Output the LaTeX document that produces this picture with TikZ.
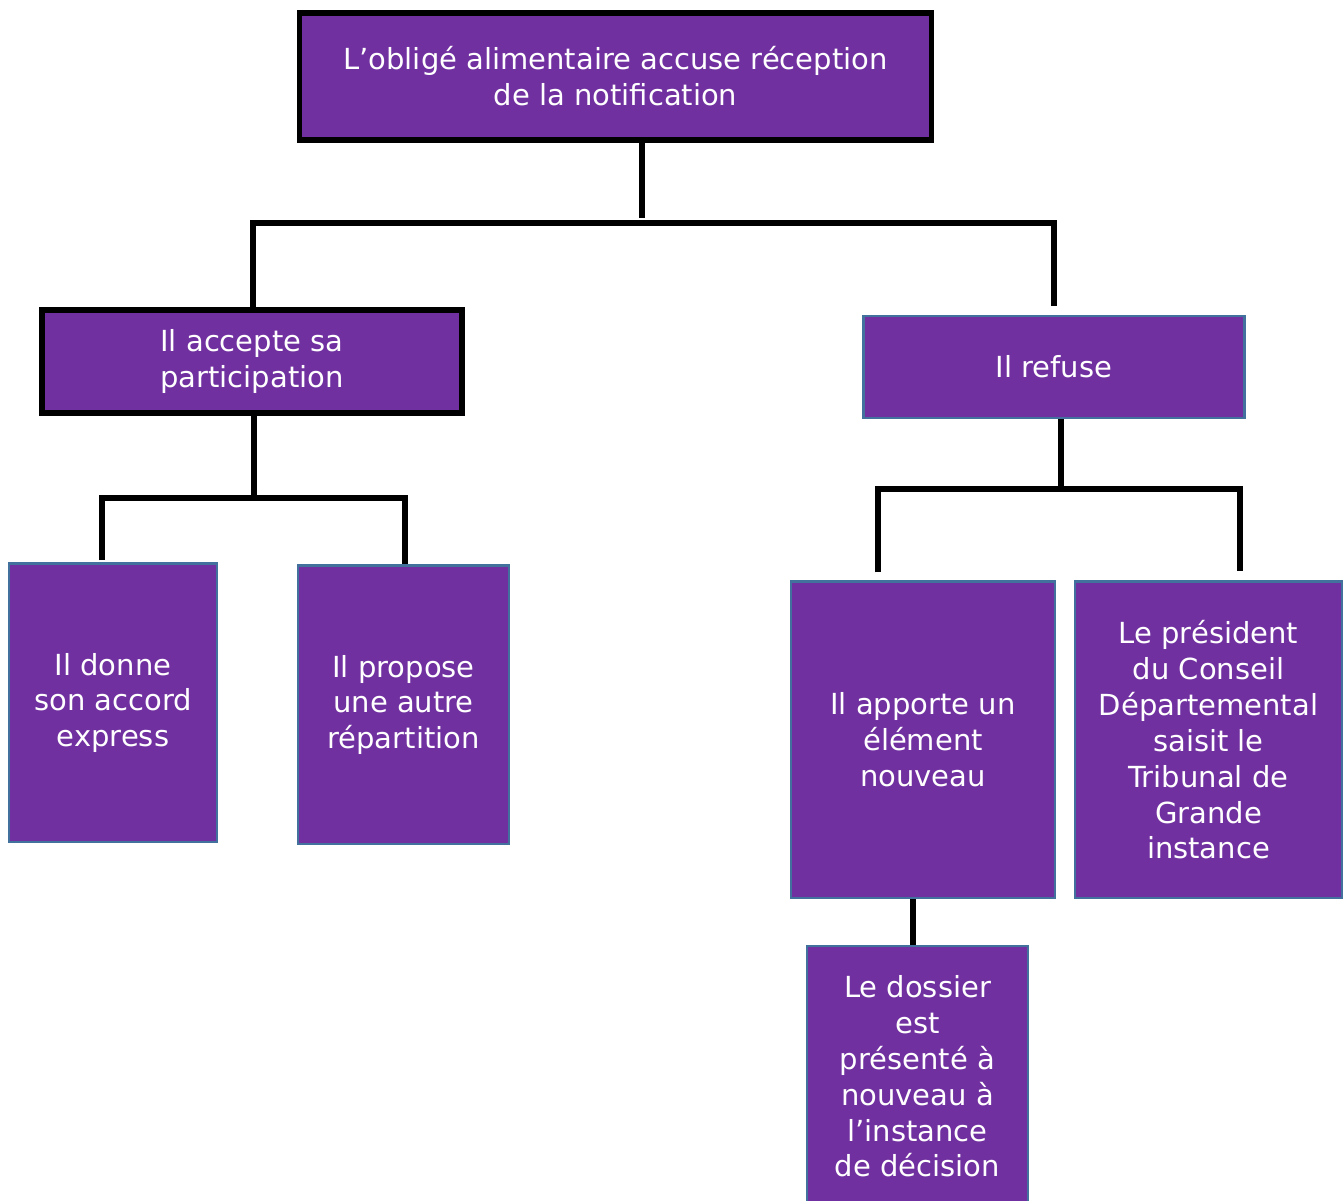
\documentclass[tikz,border=0pt]{standalone}
\usepackage{fontspec}
\setmainfont{DejaVu Sans}
\definecolor{violet}{HTML}{7030A0}
\definecolor{bordbleu}{HTML}{41719C}
\tikzset{
  boite/.style={rectangle,fill=violet,text=white,align=center,inner sep=0pt,
    font=\fontsize{8.25}{10.2}\selectfont},
  boitenoire/.style={boite,draw=black,line width=1.5pt},
  boitebleue/.style={boite,draw=bordbleu,line width=0.8pt},
  lien/.style={draw=black,line width=1.7pt}
}
\begin{document}
\begin{tikzpicture}[x=0.01cm,y=-0.01cm]
        \useasboundingbox (0,0) rectangle (1344,1201);
        \node[boitenoire,minimum width=6.31cm,minimum height=1.27cm] (oblige) at (615.5,76.5)
          {L’obligé alimentaire accuse réception\\de la notification};
        \node[boitenoire,minimum width=4.2cm,minimum height=1.03cm] (accepte) at (252,361.5)
          {Il accepte sa\\participation};
        \node[boitebleue,minimum width=3.8cm,minimum height=1.02cm] (refuse) at (1054,367)
          {Il refuse};
        \node[boitebleue,minimum width=2.08cm,minimum height=2.78cm] (donne) at (113,703)
          {Il donne\\son accord\\express};
        \node[boitebleue,minimum width=2.11cm,minimum height=2.78cm] (propose) at (403.5,705)
          {Il propose\\une autre\\répartition};
        \node[boitebleue,minimum width=2.64cm,minimum height=3.16cm] (apporte) at (923,740)
          {Il apporte un\\élément\\nouveau};
        \node[boitebleue,minimum width=2.67cm,minimum height=3.16cm] (president) at (1208.5,740)
          {Le président\\du Conseil\\Départemental\\saisit le\\Tribunal de\\Grande\\instance};
        \node[boitebleue,minimum width=2.21cm,minimum height=2.61cm] (dossier) at (917.5,1076.5)
          {Le dossier\\est\\présenté à\\nouveau à\\l’instance\\de décision};
        \coordinate (j1) at (642,223);
        \coordinate (j1g) at (253,223);
        \coordinate (j1d) at (1054,223);
        \coordinate (j2) at (254,498);
        \coordinate (j2g) at (102,498);
        \coordinate (j2d) at (405,498);
        \coordinate (j3) at (1061,489);
        \coordinate (j3g) at (878,489);
        \coordinate (j3d) at (1240,489);
        \draw[lien] (oblige.south -| j1) -- ([yshift=0.05cm]j1);
        \draw[lien] (accepte.north -| j1g) -- (j1g) -- (j1d) -- ([yshift=0.09cm]refuse.north -| j1d);
        \draw[lien] (accepte.south -| j2) -- (j2);
        \draw[lien] ([yshift=0.02cm]donne.north -| j2g) -- (j2g) -- (j2d) -- (propose.north -| j2d);
        \draw[lien] (refuse.south -| j3) -- (j3);
        \draw[lien] ([yshift=0.08cm]apporte.north -| j3g) -- (j3g) -- (j3d) -- ([yshift=0.09cm]president.north -| j3d);
        \draw[lien] (apporte.south -| 913,0) -- (dossier.north -| 913,0);
    \end{tikzpicture}
\end{document}
